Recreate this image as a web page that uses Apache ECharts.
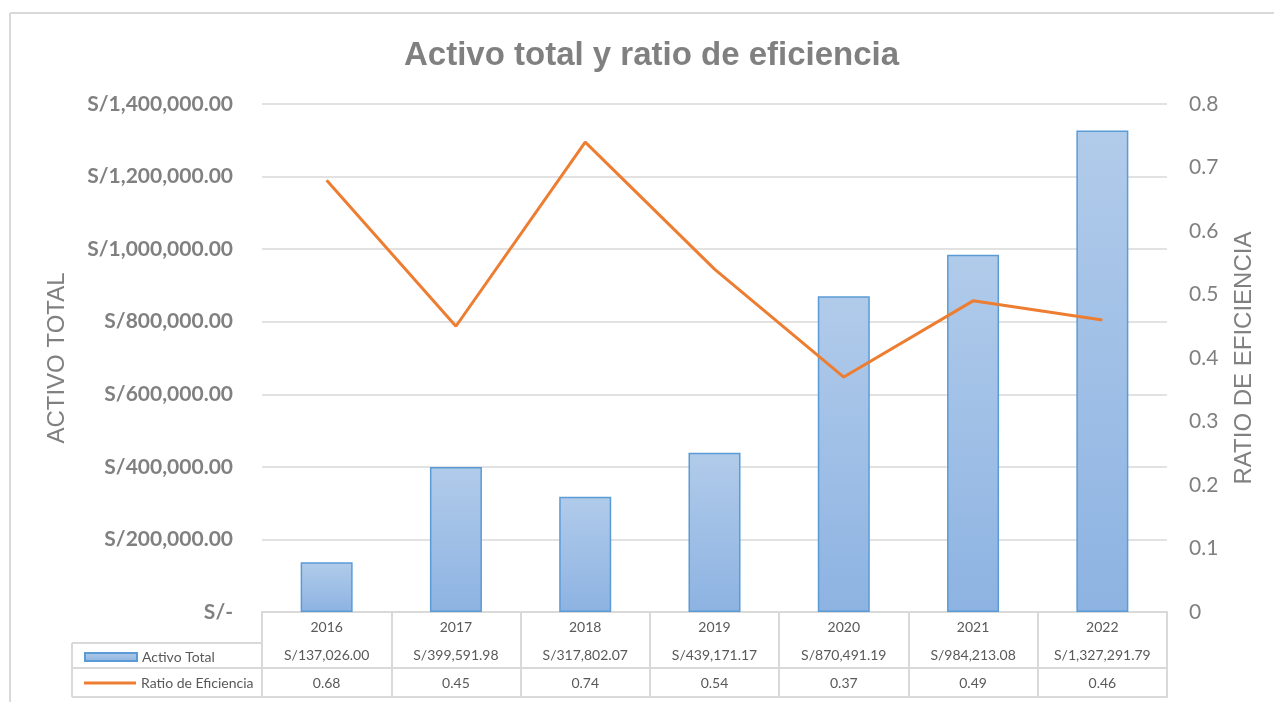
<!DOCTYPE html>
<html>
<head>
<meta charset="utf-8">
<title>Activo total y ratio de eficiencia</title>
<script src="https://cdn.jsdelivr.net/npm/echarts@6/dist/echarts.min.js"></script>
<style>
  html, body { margin: 0; padding: 0; background: #fff; }
  #chart { width: 1277px; height: 702px; }
</style>
</head>
<body>
<div id="chart"></div>
<script>
var years = ['2016', '2017', '2018', '2019', '2020', '2021', '2022']
var activoTotal = [137026.00, 399591.98, 317802.07, 439171.17, 870491.19, 984213.08, 1327291.79]
var ratioEficiencia = [0.68, 0.45, 0.74, 0.54, 0.37, 0.49, 0.46]

var grey = '#808080'
var tableText = '#595959'
var lineGrey = '#d9d9d9'
var bodyFont = 'Lato, "Noto Sans", sans-serif'
var arialFont = '"Liberation Sans", Arial, sans-serif'

function soles (v) {
  if (v === 0) return 'S/-'
  return 'S/' + v.toLocaleString('en-US', { minimumFractionDigits: 2, maximumFractionDigits: 2 })
}

var barFill = new echarts.graphic.LinearGradient(0, 0, 0, 1, [
  { offset: 0, color: '#b1cbea' },
  { offset: 1, color: '#8db3e2' }
])

var chart = echarts.init(document.getElementById('chart'))

var option = {
  animation: false,
  title: {
    text: 'Activo total y ratio de eficiencia',
    left: 399,
    top: 34,
    textStyle: {
      fontFamily: arialFont,
      fontSize: 33,
      fontWeight: 'bold',
      color: grey
    }
  },
  legend: [
    {
      left: 79,
      top: 645,
      itemWidth: 52,
      itemHeight: 8,
      selectedMode: false,
      textStyle: { fontFamily: bodyFont, fontSize: 14, color: tableText },
      data: [{ name: 'Activo Total', icon: 'rect' }]
    },
    {
      left: 79,
      top: 671,
      itemWidth: 52,
      itemHeight: 3,
      selectedMode: false,
      textStyle: { fontFamily: bodyFont, fontSize: 14, color: tableText },
      data: [{ name: 'Ratio de Eficiencia', icon: 'path://M0,0L52,0L52,3L0,3Z' }]
    }
  ],
  grid: {
    left: 262,
    right: 110,
    top: 104,
    bottom: 90,
    containLabel: false
  },
  xAxis: [
    {
      type: 'category',
      data: years,
      position: 'bottom',
      axisLine: { lineStyle: { color: lineGrey, width: 2 } },
      axisTick: { show: true, interval: 0, length: 85, lineStyle: { color: lineGrey, width: 2 } },
      axisLabel: { margin: 8, fontFamily: bodyFont, fontSize: 14, color: tableText }
    },
    {
      type: 'category',
      data: years,
      position: 'bottom',
      offset: 31,
      axisLine: { lineStyle: { color: lineGrey, width: 2 } },
      axisTick: { show: false },
      axisLabel: {
        margin: 5,
        fontFamily: bodyFont, fontSize: 14, color: tableText,
        formatter: function (v, i) { return soles(activoTotal[i]) }
      }
    },
    {
      type: 'category',
      data: years,
      position: 'bottom',
      offset: 56,
      axisLine: { lineStyle: { color: lineGrey, width: 2 } },
      axisTick: { show: false },
      axisLabel: {
        margin: 8,
        fontFamily: bodyFont, fontSize: 14, color: tableText,
        formatter: function (v, i) { return ratioEficiencia[i].toFixed(2) }
      }
    },
    {
      type: 'category',
      data: years,
      position: 'bottom',
      offset: 85,
      axisLine: { lineStyle: { color: lineGrey, width: 2 } },
      axisTick: { show: false },
      axisLabel: { show: false }
    }
  ],
  yAxis: [
    {
      type: 'value',
      min: 0,
      max: 1400000,
      interval: 200000,
      name: 'ACTIVO TOTAL',
      nameLocation: 'middle',
      nameGap: 193,
      nameTextStyle: { fontFamily: arialFont, fontSize: 24, color: grey },
      axisLine: { show: false },
      axisTick: { show: false },
      splitLine: { lineStyle: { color: lineGrey, width: 1.5 } },
      axisLabel: {
        margin: 29,
        fontFamily: bodyFont, fontSize: 21, fontWeight: 'bold', color: grey,
        formatter: soles
      }
    },
    {
      type: 'value',
      min: 0,
      max: 0.8,
      interval: 0.1,
      name: 'RATIO DE EFICIENCIA',
      nameLocation: 'middle',
      nameGap: 65,
      nameTextStyle: { fontFamily: arialFont, fontSize: 24, color: grey },
      axisLine: { show: false },
      axisTick: { show: false },
      splitLine: { show: false },
      axisLabel: {
        margin: 22,
        fontFamily: bodyFont, fontSize: 21, color: grey,
        formatter: function (v) { return v === 0 ? '0' : String(Math.round(v * 10) / 10) }
      }
    }
  ],
  series: [
    {
      name: 'Activo Total',
      type: 'bar',
      barWidth: 52,
      data: activoTotal,
      itemStyle: { color: barFill, borderColor: '#5b9bd5', borderWidth: 1.5 }
    },
    {
      name: 'Ratio de Eficiencia',
      type: 'line',
      yAxisIndex: 1,
      symbol: 'none',
      data: ratioEficiencia,
      lineStyle: { color: '#ed7d31', width: 3 },
      itemStyle: { color: '#ed7d31' }
    }
  ],
  graphic: [
    // marco del area del grafico
    { type: 'line', shape: { x1: 10, y1: 13, x2: 1274, y2: 13 }, style: { stroke: lineGrey, lineWidth: 2 }, silent: true },
    { type: 'line', shape: { x1: 10, y1: 13, x2: 10, y2: 702 }, style: { stroke: lineGrey, lineWidth: 2 }, silent: true },
    // columna de leyenda de la tabla de datos
    { type: 'line', shape: { x1: 72, y1: 643, x2: 262, y2: 643 }, style: { stroke: lineGrey, lineWidth: 2 }, silent: true },
    { type: 'line', shape: { x1: 72, y1: 668, x2: 262, y2: 668 }, style: { stroke: lineGrey, lineWidth: 2 }, silent: true },
    { type: 'line', shape: { x1: 72, y1: 697, x2: 262, y2: 697 }, style: { stroke: lineGrey, lineWidth: 2 }, silent: true },
    { type: 'line', shape: { x1: 72, y1: 643, x2: 72, y2: 697 }, style: { stroke: lineGrey, lineWidth: 2 }, silent: true }
  ]
}

chart.setOption(option)
</script>
</body>
</html>
